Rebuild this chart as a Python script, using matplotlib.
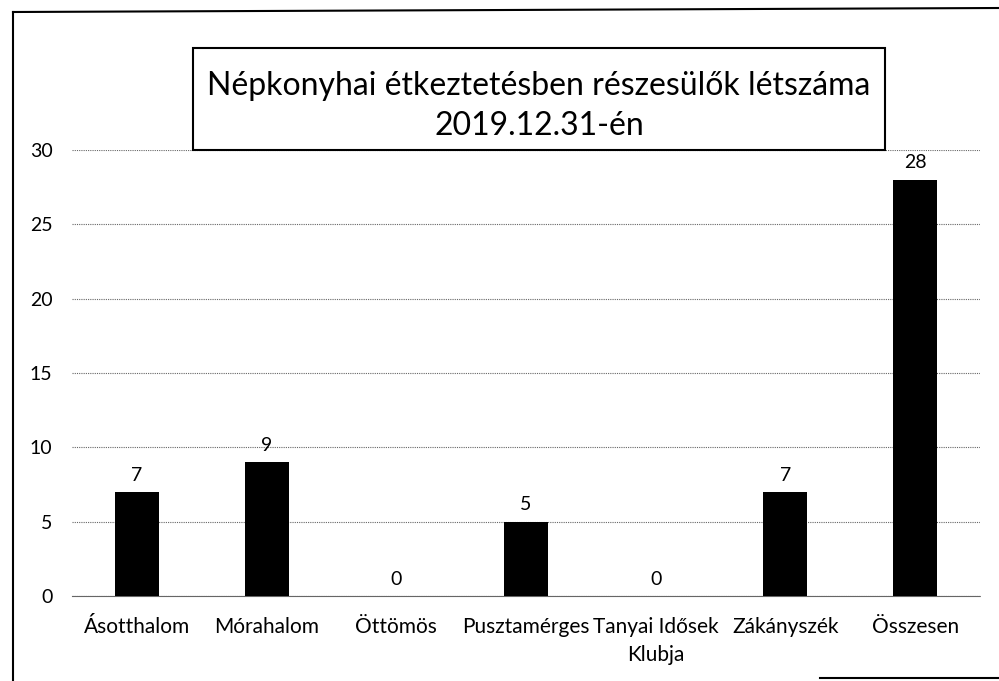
import matplotlib.pyplot as plt
from matplotlib.patches import Rectangle
from matplotlib.lines import Line2D

# adatok
categories = ["Ásotthalom", "Mórahalom", "Öttömös", "Pusztamérges",
              "Tanyai Idősek\nKlubja", "Zákányszék", "Összesen"]
values = [7, 9, 0, 5, 0, 7, 28]
y_ticks = [0, 5, 10, 15, 20, 25, 30]
title = "Népkonyhai étkeztetésben részesülők létszáma\n2019.12.31-én"

plt.rcParams["font.family"] = ["Lato", "DejaVu Sans"]

W, H = 999, 681
fig = plt.figure(figsize=(W / 100, H / 100), dpi=100)
fig.patch.set_facecolor("white")


def fx(px):
    return px / W


def fy(py):
    return 1 - py / H


# tengely: x 72..980, y 150..596 px
ax_h = 596 - 150
ax = fig.add_axes([fx(72), fy(596), fx(980 - 72), fy(150) - fy(596)])
x = range(len(categories))
ax.bar(x, values, width=0.34, color="black", zorder=3)
for xi, v in zip(x, values):
    ax.annotate(str(v), (xi, v), xytext=(0, 6), textcoords="offset points",
                ha="center", va="bottom", fontsize=14)

ax.set_xlim(-0.5, len(categories) - 0.5)
ax.set_ylim(0, 30)
ax.set_yticks(y_ticks)
ax.set_xticks(list(x))
ax.set_xticklabels([])
ax.tick_params(axis="y", labelsize=14, length=0, pad=14)
ax.tick_params(axis="x", length=0)

# kategórianevek: első sor alapvonala 37 px-re a tengely alatt, sorköz 28 px
for xi, name in zip(x, categories):
    for j, line in enumerate(name.split("\n")):
        ax.text(xi, -(37 + 28 * j) / ax_h, line, transform=ax.get_xaxis_transform(),
                ha="center", va="baseline", fontsize=15)

ax.grid(axis="y", color="#666666", linestyle=(0, (1, 1)), linewidth=0.8, zorder=0)
for s in ["left", "right", "top"]:
    ax.spines[s].set_visible(False)
ax.spines["bottom"].set_color("#666666")
ax.spines["bottom"].set_linestyle((0, (1, 1)))
ax.spines["bottom"].set_linewidth(0.8)

# cím keretben
box = Rectangle((fx(193), fy(150)), fx(885 - 193), fy(48) - fy(150),
                transform=fig.transFigure, facecolor="white",
                edgecolor="black", linewidth=1.5, zorder=5)
fig.patches.append(box)
fig.text(fx(539), fy(106), title, ha="center", va="center", fontsize=23,
         linespacing=1.45, zorder=6)

# külső keret (szkennelt lap széle)
frame_kw = dict(transform=fig.transFigure, color="black", linewidth=1.5)
fig.lines.append(Line2D([fx(13), fx(999)], [fy(12), fy(8)], **frame_kw))
fig.lines.append(Line2D([fx(13), fx(13)], [fy(12), fy(681)], **frame_kw))
fig.lines.append(Line2D([fx(820), fx(999)], [fy(678), fy(678)], **frame_kw))

fig.savefig("out.png", dpi=100)
